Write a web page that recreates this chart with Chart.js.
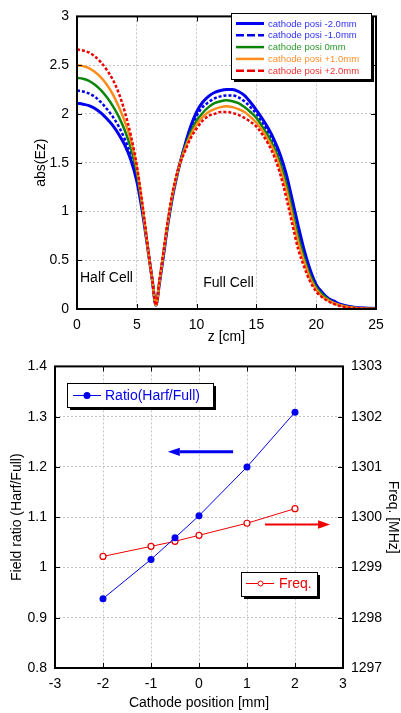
<!DOCTYPE html>
<html>
<head>
<meta charset="utf-8">
<script src="https://cdn.jsdelivr.net/npm/chart.js@4.4.1/dist/chart.umd.min.js"></script>
<style>
	html, body { margin: 0; padding: 0; background: #fff; }
	#wrapTop { position: absolute; left: 0; top: 0; width: 401px; height: 350px; }
	#wrapBottom { position: absolute; left: 0; top: 350px; width: 401px; height: 363px; }
</style>
</head>
<body>
<div id="wrapTop"><canvas id="fieldChart" width="401" height="350"></canvas></div>
<div id="wrapBottom"><canvas id="ratioChart" width="401" height="363"></canvas></div>
<script>
// z position along the gun [cm]
const zCm = [0, 0.5, 1, 1.5, 2, 2.5, 3, 3.5, 4, 4.5,
	5, 5.5, 6, 6.3, 6.6, 6.9, 7.2, 7.6, 8, 8.5,
	9, 9.5, 10, 10.5, 11, 11.5, 12, 12.5, 13, 13.5,
	14, 14.5, 15, 15.5, 16, 16.5, 17, 17.5, 18, 18.5,
	19, 19.5, 20, 20.5, 21, 21.5, 22, 23, 24, 25];

// abs(Ez) per cathode position
const ezM20 = [2.11, 2.10, 2.085, 2.055, 2.01, 1.95, 1.88, 1.79, 1.68, 1.53,
	1.31, 0.97, 0.55, 0.29, 0.04, 0.27, 0.52, 0.87, 1.16, 1.44,
	1.67, 1.87, 2.02, 2.12, 2.18, 2.22, 2.24, 2.25, 2.25, 2.23,
	2.19, 2.12, 2.04, 1.95, 1.85, 1.73, 1.58, 1.38, 1.12, 0.85,
	0.60, 0.40, 0.25, 0.17, 0.11, 0.08, 0.05, 0.02, 0.01, 0.005];
const ezM10 = [2.24, 2.23, 2.21, 2.175, 2.12, 2.05, 1.97, 1.87, 1.74, 1.58,
	1.35, 0.99, 0.55, 0.29, 0.04, 0.28, 0.53, 0.88, 1.17, 1.45,
	1.66, 1.84, 1.98, 2.07, 2.12, 2.16, 2.18, 2.19, 2.19, 2.17,
	2.13, 2.07, 2.00, 1.91, 1.81, 1.69, 1.53, 1.32, 1.06, 0.80,
	0.56, 0.37, 0.23, 0.16, 0.10, 0.07, 0.045, 0.02, 0.01, 0.005];
const ez0 = [2.37, 2.36, 2.34, 2.30, 2.245, 2.17, 2.08, 1.97, 1.83, 1.65,
	1.40, 1.01, 0.55, 0.29, 0.04, 0.28, 0.54, 0.89, 1.18, 1.45,
	1.65, 1.81, 1.93, 2.01, 2.07, 2.11, 2.13, 2.14, 2.13, 2.11,
	2.07, 2.02, 1.96, 1.87, 1.77, 1.65, 1.49, 1.28, 1.01, 0.74,
	0.52, 0.34, 0.22, 0.15, 0.10, 0.06, 0.04, 0.015, 0.005, 0.0];
const ezP10 = [2.50, 2.49, 2.47, 2.43, 2.375, 2.30, 2.20, 2.07, 1.92, 1.73,
	1.45, 1.03, 0.55, 0.29, 0.04, 0.29, 0.55, 0.90, 1.19, 1.45,
	1.63, 1.78, 1.89, 1.97, 2.02, 2.05, 2.07, 2.08, 2.07, 2.05,
	2.02, 1.97, 1.91, 1.83, 1.73, 1.61, 1.44, 1.22, 0.95, 0.68,
	0.48, 0.31, 0.20, 0.13, 0.09, 0.06, 0.04, 0.015, 0.005, 0.0];
const ezP20 = [2.66, 2.65, 2.63, 2.59, 2.53, 2.45, 2.35, 2.21, 2.02, 1.78,
	1.47, 1.05, 0.56, 0.29, 0.04, 0.30, 0.56, 0.91, 1.20, 1.45,
	1.61, 1.75, 1.85, 1.93, 1.98, 2.00, 2.02, 2.02, 2.01, 1.99,
	1.96, 1.92, 1.87, 1.79, 1.69, 1.56, 1.38, 1.14, 0.87, 0.61,
	0.43, 0.28, 0.18, 0.12, 0.08, 0.05, 0.03, 0.01, 0.005, 0.0];

const ezLabels = ["cathode posi -2.0mm", "cathode posi -1.0mm", "cathode posi 0mm",
	"cathode posi +1.0mm", "cathode posi +2.0mm"];

// field ratio / frequency vs cathode position
const cathodePos = [-2, -1, -0.5, 0, 1, 2];
const fieldRatio = [0.938, 1.016, 1.059, 1.103, 1.200, 1.309];
const freqMHz = [1299.22, 1299.42, 1299.52, 1299.64, 1299.88, 1300.17];

const FONT = "'Liberation Sans', Arial, sans-serif";
const BLUE = "#0000ee";
const RED = "#ee0000";

const ezStyles = [
	{ color: "#0000f0", text: "#3030ff", dash: [], width: 3 },
	{ color: "#0000f0", text: "#3030ff", dash: [3, 2], width: 2.5 },
	{ color: "#0a870a", text: "#2a9a2a", dash: [], width: 2.5 },
	{ color: "#ff8c1a", text: "#ff9030", dash: [], width: 2.5 },
	{ color: "#ee0000", text: "#f03030", dash: [3, 2], width: 2.5 },
];

function toPoints(xs, ys) {
	return xs.map((x, i) => ({ x, y: ys[i] }));
}

function plainTick(v) {
	return String(Number(v.toFixed(2)));
}

function line(ctx, x1, y1, x2, y2) {
	ctx.beginPath();
	ctx.moveTo(x1, y1);
	ctx.lineTo(x2, y2);
	ctx.stroke();
}

function legendBox(ctx, x, y, w, h) {
	ctx.fillStyle = "#000";
	ctx.fillRect(x + 3, y + 3, w, h);
	ctx.fillStyle = "#fff";
	ctx.fillRect(x, y, w, h);
	ctx.strokeStyle = "#000";
	ctx.lineWidth = 1;
	ctx.setLineDash([]);
	ctx.strokeRect(x + 0.5, y + 0.5, w, h);
}

// Marco negro + ticks hacia adentro
function frameAndTicks(chart, leftId, rightId) {
	const { ctx, chartArea: a, scales } = chart;
	const len = 5;
	ctx.save();
	ctx.setLineDash([]);
	ctx.strokeStyle = "#000";
	ctx.lineWidth = 1;
	scales.x.ticks.forEach((t) => {
		const px = Math.round(scales.x.getPixelForValue(t.value)) + 0.5;
		line(ctx, px, a.bottom, px, a.bottom - len);
		line(ctx, px, a.top, px, a.top + len);
	});
	scales[leftId].ticks.forEach((t) => {
		const py = Math.round(scales[leftId].getPixelForValue(t.value)) + 0.5;
		line(ctx, a.left, py, a.left + len, py);
	});
	scales[rightId].ticks.forEach((t) => {
		const py = Math.round(scales[rightId].getPixelForValue(t.value)) + 0.5;
		line(ctx, a.right, py, a.right - len, py);
	});
	ctx.lineWidth = 2;
	ctx.strokeRect(a.left, a.top, a.right - a.left, a.bottom - a.top);
	ctx.restore();
}

function axisOpts(min, max, step, title, titlePad, fit) {
	return {
		type: "linear",
		min,
		max,
		ticks: { stepSize: step, color: "#000", font: { family: FONT, size: 14 }, padding: 8, callback: plainTick },
		grid: { color: "#c4c4c4", lineWidth: 1, drawTicks: false },
		border: { display: false, dash: [2, 2] },
		title: { display: true, text: title, color: "#000", font: { family: FONT, size: 14 }, padding: titlePad },
		afterFit: fit,
	};
}

// Gráfico superior: abs(Ez)
const fieldDecor = {
	id: "fieldDecor",
	afterDraw(chart) {
		const { ctx, scales } = chart;
		frameAndTicks(chart, "y", "y");
		ctx.save();
		ctx.font = "14px " + FONT;
		ctx.fillStyle = "#000";
		ctx.textBaseline = "middle";
		ctx.fillText("Half Cell", scales.x.getPixelForValue(0.25), scales.y.getPixelForValue(0.32));
		ctx.fillText("Full Cell", scales.x.getPixelForValue(10.55), scales.y.getPixelForValue(0.27));

		legendBox(ctx, 231, 13, 140, 66);
		ctx.font = "9.5px " + FONT;
		ezStyles.forEach((s, i) => {
			const y = 23.5 + i * 11.8;
			ctx.strokeStyle = s.color;
			ctx.lineWidth = s.width;
			ctx.setLineDash(s.dash.length ? [8, 3] : []);
			line(ctx, 236, y, 264, y);
			ctx.fillStyle = s.text;
			ctx.fillText(ezLabels[i], 268, y + 0.5);
		});
		ctx.restore();
	},
};

const ezSeries = [ezM20, ezM10, ez0, ezP10, ezP20];

new Chart(document.getElementById("fieldChart"), {
	type: "line",
	data: {
		datasets: ezSeries.map((vals, i) => ({
			label: ezLabels[i],
			data: toPoints(zCm, vals),
			borderColor: ezStyles[i].color,
			borderWidth: ezStyles[i].width,
			borderDash: ezStyles[i].dash,
			pointRadius: 0,
			fill: false,
			cubicInterpolationMode: "monotone",
			order: 5 - i,
		})),
	},
	options: {
		responsive: false,
		animation: false,
		layout: { padding: { left: 0, top: 12, right: 25, bottom: 0 } },
		plugins: { legend: { display: false }, tooltip: { enabled: false } },
		scales: {
			x: axisOpts(0, 25, 5, "z [cm]", { top: 0, bottom: 4 }, (s) => { s.height = 41; }),
			y: axisOpts(0, 3, 0.5, "abs(Ez)", { top: 33, bottom: 0 }, (s) => { s.width = 77; }),
		},
	},
	plugins: [fieldDecor],
});

// Gráfico inferior: ratio + frecuencia
function arrow(ctx, x1, x2, y, color, width, head) {
	const dir = Math.sign(x2 - x1);
	ctx.strokeStyle = color;
	ctx.fillStyle = color;
	ctx.lineWidth = width;
	line(ctx, x1, y, x2 - dir * head, y);
	ctx.beginPath();
	ctx.moveTo(x2, y);
	ctx.lineTo(x2 - dir * head, y - head * 0.35);
	ctx.lineTo(x2 - dir * head, y + head * 0.35);
	ctx.closePath();
	ctx.fill();
}

const ratioDecor = {
	id: "ratioDecor",
	afterDraw(chart) {
		const { ctx, scales } = chart;
		frameAndTicks(chart, "y", "y1");
		ctx.save();
		ctx.setLineDash([]);
		arrow(ctx, scales.x.getPixelForValue(0.71), scales.x.getPixelForValue(-0.65),
			scales.y.getPixelForValue(1.23), BLUE, 3, 12);
		arrow(ctx, scales.x.getPixelForValue(1.375), scales.x.getPixelForValue(2.73),
			scales.y1.getPixelForValue(1299.855), RED, 2, 12);

		ctx.font = "14px " + FONT;
		ctx.textBaseline = "middle";

		legendBox(ctx, 67, 33, 146, 24);
		ctx.strokeStyle = BLUE;
		ctx.lineWidth = 1;
		line(ctx, 73, 45.5, 101, 45.5);
		ctx.fillStyle = BLUE;
		ctx.beginPath();
		ctx.arc(87, 45.5, 3.5, 0, Math.PI * 2);
		ctx.fill();
		ctx.fillText("Ratio(Harf/Full)", 105, 46);

		legendBox(ctx, 241, 222, 76, 24);
		ctx.strokeStyle = RED;
		line(ctx, 246, 233.5, 274, 233.5);
		ctx.fillStyle = "#fff";
		ctx.beginPath();
		ctx.arc(260.5, 233.5, 2.5, 0, Math.PI * 2);
		ctx.fill();
		ctx.stroke();
		ctx.fillStyle = RED;
		ctx.fillText("Freq.", 279, 234);
		ctx.restore();
	},
};

const rightAxis = axisOpts(1297, 1303, 1, "Freq. [MHz]", { top: 0, bottom: 0 }, (s) => { s.width = 58; });
rightAxis.position = "right";
rightAxis.grid.drawOnChartArea = false;

new Chart(document.getElementById("ratioChart"), {
	type: "line",
	data: {
		datasets: [
			{
				label: "Ratio(Harf/Full)",
				data: toPoints(cathodePos, fieldRatio),
				yAxisID: "y",
				borderColor: BLUE,
				borderWidth: 1,
				pointRadius: 3.5,
				pointBackgroundColor: BLUE,
				pointBorderWidth: 0,
				tension: 0,
			},
			{
				label: "Freq.",
				data: toPoints(cathodePos, freqMHz),
				yAxisID: "y1",
				borderColor: RED,
				borderWidth: 1,
				pointRadius: 3,
				pointBackgroundColor: "#fff",
				pointBorderColor: RED,
				pointBorderWidth: 1.2,
				tension: 0,
			},
		],
	},
	options: {
		responsive: false,
		animation: false,
		layout: { padding: { left: 0, top: 16, right: 0, bottom: 0 } },
		plugins: { legend: { display: false }, tooltip: { enabled: false } },
		scales: {
			x: axisOpts(-3, 3, 1, "Cathode position [mm]", { top: 0, bottom: 1 }, (s) => { s.height = 45; }),
			y: axisOpts(0.8, 1.4, 0.1, "Field ratio (Harf/Full)", { top: 9, bottom: 0 }, (s) => { s.width = 55; }),
			y1: rightAxis,
		},
	},
	plugins: [ratioDecor],
});
</script>
</body>
</html>
